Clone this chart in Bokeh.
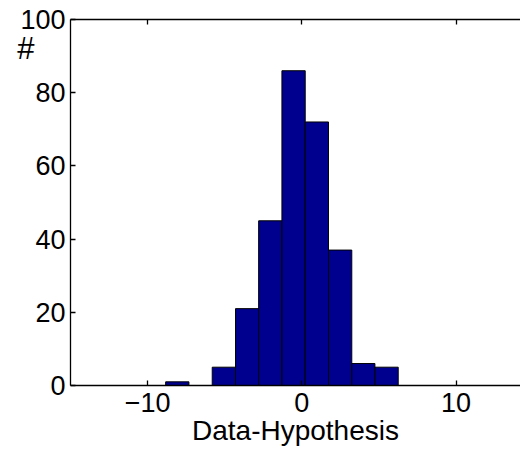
from bokeh.plotting import figure
from bokeh.models import LinearAxis, FixedTicker, Range1d
from bokeh.embed import file_html
from bokeh.resources import INLINE

# histogram data
bin_edges = [-8.83, -7.32, -5.81, -4.30, -2.80, -1.29, 0.22, 1.73, 3.24, 4.74, 6.25]
counts = [1, 0, 5, 21, 45, 86, 72, 37, 6, 5]
x_ticks = [-10, 0, 10]
y_ticks = [0, 20, 40, 60, 80, 100]
x_label = "Data-Hypothesis"
y_label = "#"
y_label_at = 92

FONT = "Liberation Sans"
FS = "27px"
FS_LABEL = "28px"

p = figure(width=520, height=449, output_backend="svg", toolbar_location=None,
           x_range=Range1d(-15, 14.18), y_range=Range1d(0, 100),
           min_border_left=70, min_border_right=0, min_border_top=19, min_border_bottom=64)
p.outline_line_color = None
p.grid.visible = False
p.background_fill_color = "white"
p.border_fill_color = "white"

p.quad(left=bin_edges[:-1], right=bin_edges[1:], bottom=0, top=counts,
       fill_color="#00008F", line_color="black", line_width=1)

for ax in (p.xaxis[0], p.yaxis[0]):
    ax.major_tick_in = 5
    ax.major_tick_out = 0
    ax.minor_tick_line_color = None
    ax.axis_line_width = 1.3
    ax.major_tick_line_width = 1.3
    ax.major_label_text_font = FONT
    ax.major_label_text_font_size = FS
    ax.major_label_text_color = "black"
    ax.axis_line_color = "black"
    ax.major_tick_line_color = "black"

p.xaxis.ticker = FixedTicker(ticks=x_ticks)
p.xaxis.major_label_overrides = {t: (str(t).replace("-", "\u2212")) for t in x_ticks}
p.xaxis.major_label_standoff = 7
p.xaxis.axis_label = x_label
p.xaxis.axis_label_text_font = FONT
p.xaxis.axis_label_text_font_size = FS_LABEL
p.xaxis.axis_label_text_font_style = "normal"
p.xaxis.axis_label_standoff = 0
p.xaxis.axis_label_text_color = "black"

p.yaxis.ticker = FixedTicker(ticks=y_ticks)
p.yaxis.major_label_standoff = 5

top = LinearAxis(ticker=FixedTicker(ticks=x_ticks),
                 major_label_overrides={t: "" for t in x_ticks},
                 major_tick_in=5, major_tick_out=0, minor_tick_line_color=None,
                 axis_line_width=1.3, major_tick_line_width=1.3, major_label_standoff=0)
p.add_layout(top, "above")

# "#" y label drawn as a single-tick label of an invisible outer left axis
ylab_axis = LinearAxis(ticker=FixedTicker(ticks=[y_label_at]),
                       major_label_overrides={y_label_at: y_label},
                       major_label_text_font=FONT, major_label_text_font_size="31px",
                       major_label_text_color="black",
                       axis_line_color=None, major_tick_line_color=None,
                       minor_tick_line_color=None, major_tick_in=0, major_tick_out=0,
                       major_label_standoff=-17)
p.add_layout(ylab_axis, "left")

open("out.html", "w").write(file_html(p, INLINE))
